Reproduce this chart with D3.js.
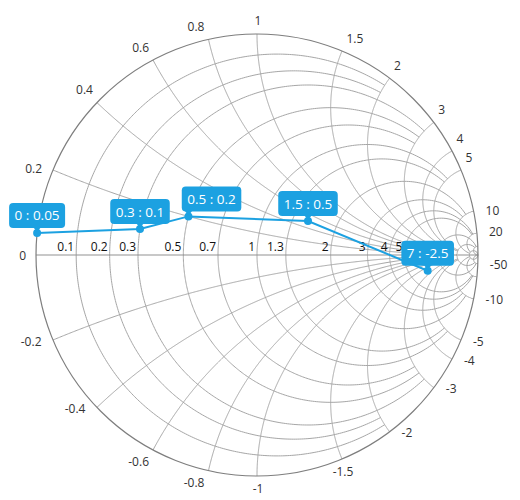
<!DOCTYPE html>
<html>
<head>
<meta charset="utf-8">
<script src="https://cdn.jsdelivr.net/npm/d3@7/dist/d3.min.js"></script>
<style>
  html, body { margin: 0; padding: 0; background: #ffffff; }
  svg { display: block; }
  text { font-family: "Open Sans", "Noto Sans", "DejaVu Sans", sans-serif; }
</style>
</head>
<body>
<svg id="chart" width="520" height="500"></svg>
<script>
// ---------- data ----------
const resistanceValues = [0.1, 0.2, 0.3, 0.5, 0.7, 1, 1.3, 2, 3, 4, 5, 10, 20, 50];
const resistanceLabelValues = [0.1, 0.2, 0.3, 0.5, 0.7, 1, 1.3, 2, 3, 4, 5];
const reactanceValues = [0.2, 0.4, 0.6, 0.8, 1, 1.5, 2, 3, 4, 5, 10, 20, 50];
const reactanceLabelValues = [0, 0.2, 0.4, 0.6, 0.8, 1, 1.5, 2, 3, 4, 5, 10, 20,
  -0.2, -0.4, -0.6, -0.8, -1, -1.5, -2, -3, -4, -5, -10, -50];
const seriesResistance = [0, 0.3, 0.5, 1.5, 7];
const seriesReactance = [0.05, 0.1, 0.2, 0.5, -2.5];

// ---------- geometry ----------
const cx = 257, cy = 255, R = 221;
const gx = d3.scaleLinear().domain([-1, 1]).range([cx - R, cx + R]);
const gy = d3.scaleLinear().domain([-1, 1]).range([cy + R, cy - R]);

function gamma(r, x) {
  const a = r - 1, c = r + 1, b = x, d = x;
  const den = c * c + d * d;
  return [(a * c + b * d) / den, (b * c - a * d) / den];
}

// clipping rules for grid lines
function resistanceLimit(r) {
  if (r <= 0.2) return 2;
  if (r <= 0.7) return 3;
  if (r <= 1.3) return 5;
  if (r <= 3) return 10;
  if (r <= 5) return 20;
  if (r <= 20) return 50;
  return Infinity;
}
function reactanceLimit(x) {
  const a = Math.abs(x);
  if (a <= 0.8) return 5;
  if (a <= 3) return 10;
  if (a <= 5) return 20;
  if (a <= 20) return 50;
  return Infinity;
}

const svg = d3.select("#chart");
const line = d3.line().x(d => gx(d[0])).y(d => gy(d[1]));
const N = 400;

const grid = svg.append("g").attr("fill", "none").attr("stroke", "#a6a6a6").attr("stroke-width", 1);

// resistance circles
resistanceValues.forEach(r => {
  const lim = resistanceLimit(r);
  const p0 = lim === Infinity ? Math.PI / 2 - 1e-9 : Math.atan(lim);
  const pts = d3.range(N + 1).map(i => {
    const phi = -p0 + (2 * p0) * i / N;
    return gamma(r, Math.tan(phi));
  });
  grid.append("path").attr("d", line(pts));
});

// reactance arcs
reactanceValues.forEach(xv => {
  [xv, -xv].forEach(x => {
    const lim = reactanceLimit(x);
    const p1 = lim === Infinity ? Math.PI / 2 - 1e-9 : Math.atan(lim);
    const pts = d3.range(N + 1).map(i => gamma(Math.tan(p1 * i / N), x));
    grid.append("path").attr("d", line(pts));
  });
});

// horizontal axis line
svg.append("line")
  .attr("x1", gx(-1)).attr("x2", gx(1)).attr("y1", gy(0)).attr("y2", gy(0))
  .attr("stroke", "#929292").attr("stroke-width", 1.2);

// outer boundary
svg.append("circle").attr("cx", gx(0)).attr("cy", gy(0)).attr("r", gx(1) - gx(0))
  .attr("fill", "none").attr("stroke", "#7e7e7e").attr("stroke-width", 1.2);

// horizontal axis labels
svg.append("g").selectAll("text").data(resistanceLabelValues).join("text")
  .attr("x", r => gx(gamma(r, 0)[0]) - 2)
  .attr("y", gy(0) - 4)
  .attr("text-anchor", "end")
  .attr("font-size", 12)
  .attr("font-weight", 500)
  .attr("fill", "#111")
  .text(r => r);

// radial labels
function radialPos(x) {
  const g = gamma(0, x);
  const px = gx(g[0]), py = gy(g[1]);
  if (x === 0) return ["end", px - 10, py];
  if (x > 0) {
    if (Math.abs(g[0]) < 0.1) return ["middle", px + 1, py - 14];
    if (g[0] > 0) return g[1] >= 0.3 ? ["start", px + 4.5, py - 12.5] : ["start", px + 12, py - 1];
    return g[1] >= 0.5 ? ["end", px - 4, py - 13] : ["end", px - 11, py - 2];
  }
  if (Math.abs(g[0]) < 0.1) return ["middle", px + 1, py + 12];
  if (g[0] > 0) return g[1] <= -0.85 ? ["middle", px + 1, py + 12] : ["start", px + 12, py + 1];
  return g[1] <= -0.8 ? ["end", px - 4, py + 11.5] : ["end", px - 11.5, py + 1];
}
svg.append("g").selectAll("text").data(reactanceLabelValues).join("text")
  .each(function (x) {
    const [a, tx, ty] = radialPos(x);
    d3.select(this).attr("text-anchor", a).attr("x", tx).attr("y", ty);
  })
  .attr("dominant-baseline", "central")
  .attr("font-size", 12)
  .attr("fill", "#333")
  .text(x => x);

// ---------- series ----------
const color = "#1ca1e1";
const pts = seriesResistance.map((r, i) => gamma(r, seriesReactance[i]));
svg.append("path").attr("d", line(pts)).attr("fill", "none")
  .attr("stroke", color).attr("stroke-width", 2);
svg.append("g").selectAll("circle").data(pts).join("circle")
  .attr("cx", d => gx(d[0])).attr("cy", d => gy(d[1])).attr("r", 4)
  .attr("fill", color);

// data labels
const lblG = svg.append("g");
const boxes = [];
pts.forEach((p, i) => {
  const mx = gx(p[0]), my = gy(p[1]);
  const g = lblG.append("g");
  const t = g.append("text").attr("font-size", 13.5).attr("fill", "#fff")
    .attr("text-anchor", "middle").attr("dominant-baseline", "central")
    .text(seriesResistance[i] + " : " + seriesReactance[i]);
  const w = t.node().getComputedTextLength() + 11, h = 25;
  let left = mx - w / 2;
  const top = my - 5 - h;
  boxes.forEach(b => {
    if (left < b.right && left + w > b.left && top < b.bottom && top + h > b.top) left = b.right + 12;
  });
  boxes.push({ left, right: left + w, top, bottom: top + h });
  const px = Math.max(left + 6, Math.min(left + w - 6, mx));
  g.insert("path", "text")
    .attr("d", `M${px - 4},${top + h - 1}L${px},${top + h + 4}L${px + 4},${top + h - 1}Z`)
    .attr("fill", color);
  g.insert("rect", "text").attr("x", left).attr("y", top).attr("width", w).attr("height", h)
    .attr("rx", 4).attr("fill", color);
  t.attr("x", left + w / 2).attr("y", top + h / 2);
});
</script>
</body>
</html>
